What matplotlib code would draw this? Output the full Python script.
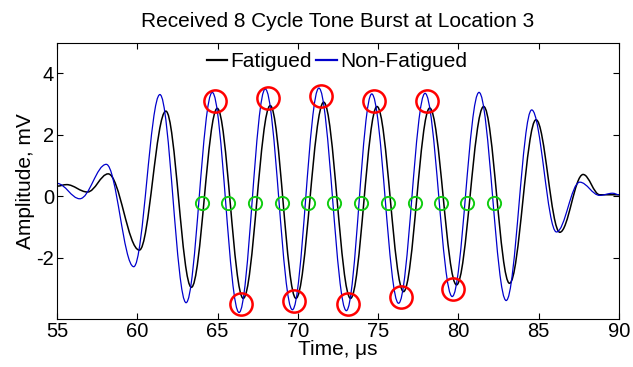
import numpy as np
import matplotlib
matplotlib.use("Agg")
import matplotlib.pyplot as plt
from matplotlib.path import Path
from matplotlib.patches import PathPatch

# extrema of each trace (time in us, amplitude in mV)
fat_t = [55.0, 55.6, 56.9, 58.19, 60.13, 61.78, 63.37, 64.98, 66.6, 68.28, 69.88,
         71.61, 73.28, 74.93, 76.58, 78.21, 79.88, 81.57, 83.18, 84.83, 86.31,
         87.76, 88.8, 90.0]
fat_v = [0.33, 0.38, 0.14, 0.73, -1.75, 2.77, -2.96, 2.86, -3.32, 2.95, -3.32,
         3.06, -3.32, 2.92, -3.10, 2.87, -2.88, 2.92, -2.83, 2.49, -1.17,
         0.71, 0.05, 0.05]
non_t = [55.0, 56.42, 58.07, 59.78, 61.41, 63.04, 64.67, 66.34, 67.97, 69.66,
         71.31, 73.02, 74.6, 76.27, 77.92, 79.61, 81.28, 82.97, 84.56, 86.1,
         87.55, 88.79, 89.6, 90.0]
non_v = [0.42, -0.08, 1.04, -2.29, 3.31, -3.46, 3.38, -3.78, 3.49, -3.69,
         3.52, -3.72, 3.33, -3.48, 3.35, -3.26, 3.38, -3.39, 2.81, -1.16,
         0.46, 0.03, 0.10, 0.05]

# marked peaks / troughs and zero crossings
peak_t = [64.83, 68.13, 71.47, 74.77, 78.07]
peak_v = [3.09, 3.20, 3.25, 3.09, 3.09]
trough_t = [66.48, 69.78, 73.12, 76.42, 79.68]
trough_v = [-3.51, -3.39, -3.51, -3.26, -3.03]
zero_t = [64.05, 65.64, 67.31, 69.0, 70.65, 72.24, 73.94, 75.59, 77.28, 78.89,
          80.54, 82.19]
zero_v = [-0.22] * len(zero_t)

xticks = [55, 60, 65, 70, 75, 80, 85, 90]
yticks = [-2, 0, 2, 4]


def wave_path(t, v, a=0.364):
    # smooth half-cycle Bezier between consecutive extrema (flat at each extremum)
    verts = [(t[0], v[0])]
    codes = [Path.MOVETO]
    for i in range(len(t) - 1):
        d = t[i + 1] - t[i]
        verts += [(t[i] + a * d, v[i]), (t[i + 1] - a * d, v[i + 1]), (t[i + 1], v[i + 1])]
        codes += [Path.CURVE4] * 3
    return Path(verts, codes)


plt.rcParams["font.family"] = ["Liberation Sans", "DejaVu Sans"]
plt.rcParams["axes.unicode_minus"] = False

fig = plt.figure(figsize=(6.33, 3.67), dpi=100)
ax = fig.add_axes([0.090, 0.130, 0.888, 0.754])

blk, blu = "black", "#0000cc"
ax.add_patch(PathPatch(wave_path(fat_t, fat_v), fill=False, edgecolor=blk, lw=1.1))
ax.add_patch(PathPatch(wave_path(non_t, non_v), fill=False, edgecolor=blu, lw=0.9))
ax.plot([], [], color=blk, lw=1.6, label="Fatigued")
ax.plot([], [], color=blu, lw=1.6, label="Non-Fatigued")

ax.plot(peak_t, peak_v, "o", ms=16, mfc="none", mec="red", mew=1.8)
ax.plot(trough_t, trough_v, "o", ms=16, mfc="none", mec="red", mew=1.8)
ax.plot(zero_t, zero_v, "o", ms=9.5, mfc="none", mec="#10cc10", mew=1.4)

ax.set_xlim(55, 90)
ax.set_ylim(-4, 5)
ax.set_xticks(xticks)
ax.set_yticks(yticks)
ax.tick_params(direction="in", length=4, width=0.8, top=True, right=True,
               labelsize=14.5, pad=2)
for s in ax.spines.values():
    s.set_linewidth(0.8)

ax.set_xlabel("Time, \u03bcs", fontsize=15, labelpad=-1)
ax.set_ylabel("Amplitude, mV", fontsize=15, labelpad=1)
ax.set_title("Received 8 Cycle Tone Burst at Location 3", fontsize=15, pad=11)

ax.legend(loc="center", bbox_to_anchor=(0.498, 0.93), ncol=2, frameon=False,
          fontsize=15, handlelength=1.0, handletextpad=0.15, columnspacing=0.2,
          borderpad=0.1)

fig.savefig("out.png", dpi=100)
